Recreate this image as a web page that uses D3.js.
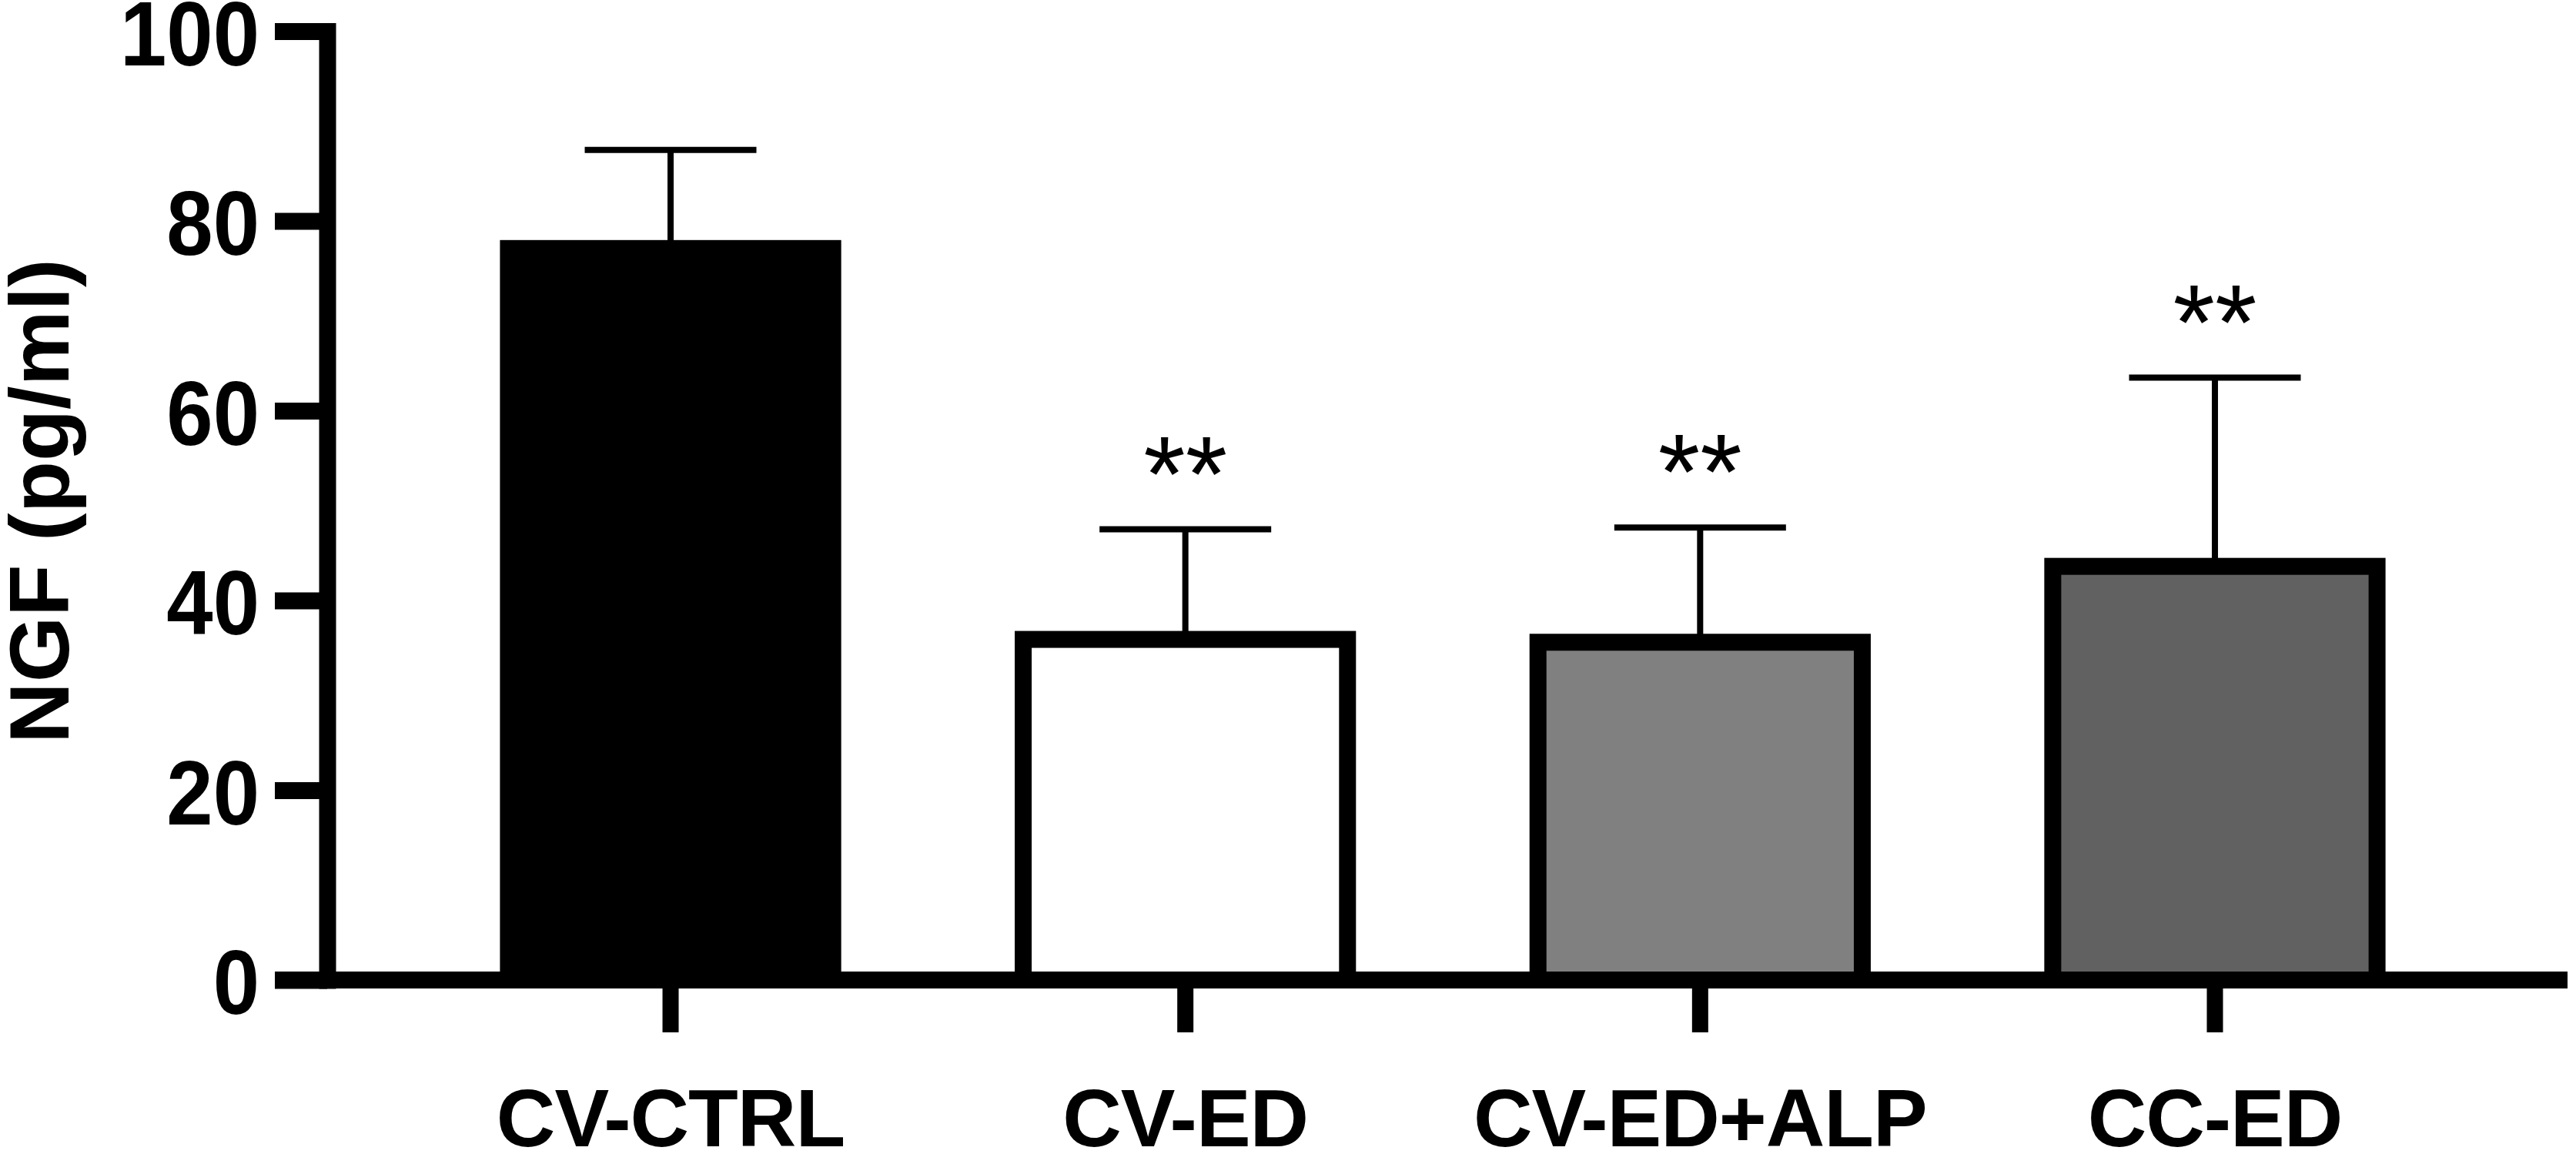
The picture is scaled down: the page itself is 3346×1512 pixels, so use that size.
<!DOCTYPE html>
<html>
<head>
<meta charset="utf-8">
<script src="https://cdn.jsdelivr.net/npm/d3@7"></script>
<style>
  html, body { margin: 0; padding: 0; background: #fff; }
  svg { display: block; }
  text { font-family: "Liberation Sans", Arial, sans-serif; }
</style>
</head>
<body>
<div id="chart"></div>
<script>
// ---- data ----
const categories = ["CV-CTRL", "CV-ED", "CV-ED+ALP", "CC-ED"];
const means      = [77.1, 35.9, 35.6, 43.6];
const errors     = [10.4, 11.6, 12.1, 19.9];
const signif     = ["", "**", "**", "**"];
const fills      = ["#000000", "#ffffff", "#808080", "#616161"];
const yTicks     = [0, 20, 40, 60, 80, 100];
const yTitle     = "NGF (pg/ml)";

// ---- layout ----
const W = 3346, H = 1512;
const axisW = 22;
const tickLen = 68;
const yAxisX = 425;
const y0px = 1273, y100px = 40.6;

const svg = d3.select("#chart").append("svg")
  .attr("width", W).attr("height", H).attr("viewBox", `0 0 ${W} ${H}`);

const y = d3.scaleLinear().domain([0, 100]).range([y0px, y100px]);
const x = d3.scaleBand().domain(categories)
  .range([536.7, 3211.3]).paddingInner(0.37).paddingOuter(0.185);

const data = categories.map((c, i) => ({ c, m: means[i], e: errors[i], s: signif[i], f: fills[i] }));

// error bars (behind bars)
const capW = 223;
const eg = svg.append("g");
eg.selectAll("line.v").data(data).join("line")
  .attr("x1", d => x(d.c) + x.bandwidth() / 2)
  .attr("x2", d => x(d.c) + x.bandwidth() / 2)
  .attr("y1", d => y(d.m))
  .attr("y2", d => y(d.m + d.e))
  .attr("stroke", "#000").attr("stroke-width", 8);
eg.selectAll("line.c").data(data).join("line")
  .attr("x1", d => x(d.c) + x.bandwidth() / 2 - capW / 2)
  .attr("x2", d => x(d.c) + x.bandwidth() / 2 + capW / 2)
  .attr("y1", d => y(d.m + d.e))
  .attr("y2", d => y(d.m + d.e))
  .attr("stroke", "#000").attr("stroke-width", 8);

// bars
svg.append("g").selectAll("rect").data(data).join("rect")
  .attr("x", d => x(d.c))
  .attr("width", x.bandwidth())
  .attr("y", d => y(d.m))
  .attr("height", d => y(0) - y(d.m))
  .attr("fill", d => d.f)
  .attr("stroke", "#000")
  .attr("stroke-width", axisW);

// significance stars
const starFs = 140;
svg.append("g").selectAll("text").data(data.filter(d => d.s)).join("text")
  .attr("x", d => x(d.c) + x.bandwidth() / 2)
  .attr("y", d => y(d.m + d.e) - 124 + 0.716 * starFs)
  .attr("text-anchor", "middle")
  .attr("font-size", starFs)
  .attr("fill", "#000")
  .text(d => d.s);

// y axis
const yPad = 20, ySx = 0.92;
const yAxis = svg.append("g")
  .attr("transform", `translate(${yAxisX},0)`)
  .call(d3.axisLeft(y).tickValues(yTicks).tickSize(tickLen).tickSizeOuter(0).tickPadding(yPad));
yAxis.select(".domain").attr("stroke", "#000").attr("stroke-width", axisW).attr("stroke-linecap", "square");
yAxis.selectAll(".tick line").attr("stroke", "#000").attr("stroke-width", axisW);
yAxis.selectAll(".tick text")
  .attr("font-size", 118).attr("font-weight", "bold").attr("fill", "#000")
  .attr("font-family", "'Liberation Sans', Arial, sans-serif")
  .attr("dy", "0.37em")
  .attr("x", -(tickLen + yPad) / ySx)
  .attr("transform", `scale(${ySx},1)`);

// x axis line
svg.append("line")
  .attr("x1", yAxisX - tickLen).attr("x2", W - 11)
  .attr("y1", y(0)).attr("y2", y(0))
  .attr("stroke", "#000").attr("stroke-width", axisW);

// x axis ticks + labels
const xAxis = svg.append("g")
  .attr("transform", `translate(0,${y(0)})`)
  .call(d3.axisBottom(x).tickSize(tickLen).tickSizeOuter(0).tickPadding(73));
xAxis.select(".domain").remove();
xAxis.selectAll(".tick line").attr("stroke", "#000").attr("stroke-width", 21);
xAxis.selectAll(".tick text")
  .attr("font-size", 106).attr("font-weight", "bold").attr("fill", "#000")
  .attr("letter-spacing", -1)
  .attr("font-family", "'Liberation Sans', Arial, sans-serif");

// y title
svg.append("text")
  .attr("transform", `translate(89,651) rotate(-90)`)
  .attr("text-anchor", "middle")
  .attr("font-size", 110).attr("font-weight", "bold").attr("fill", "#000")
  .text(yTitle);
</script>
</body>
</html>
